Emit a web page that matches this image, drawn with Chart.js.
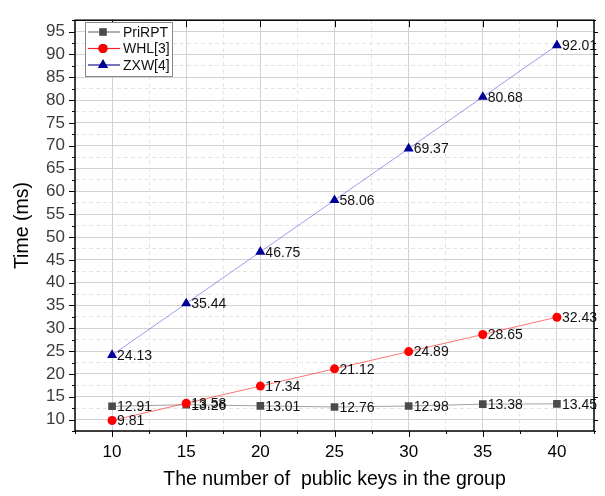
<!DOCTYPE html>
<html>
<head>
<meta charset="utf-8">
<script src="https://cdn.jsdelivr.net/npm/chart.js@4/dist/chart.umd.min.js"></script>
<style>
  html, body { margin: 0; padding: 0; background: #fff; }
  #wrap { width: 605px; height: 496px; }
</style>
</head>
<body>
<div id="wrap"><canvas id="timeChart" width="605" height="496"></canvas></div>
<script>
// Datos del gráfico
const groupSizes = [10, 15, 20, 25, 30, 35, 40];
const priRPT = [12.91, 13.26, 13.01, 12.76, 12.98, 13.38, 13.45];
const whl = [9.81, 13.58, 17.34, 21.12, 24.89, 28.65, 32.43];
const zxw = [24.13, 35.44, 46.75, 58.06, 69.37, 80.68, 92.01];
const seriesNames = ['PriRPT', 'WHL[3]', 'ZXW[4]'];

const FONT = "'Liberation Sans', Arial, sans-serif";

function toPoints(values) {
    return groupSizes.map((x, i) => ({ x: x, y: values[i] }));
}

const isMajor = v => Math.abs(v % 5) < 1e-9;

// Etiquetas de valor junto a cada punto
const valueLabels = {
    id: 'valueLabels',
    afterDatasetsDraw(chart) {
        const ctx = chart.ctx;
        ctx.save();
        ctx.font = '14px ' + FONT;
        ctx.fillStyle = '#111';
        ctx.textAlign = 'left';
        ctx.textBaseline = 'middle';
        chart.data.datasets.forEach((ds, di) => {
            const meta = chart.getDatasetMeta(di);
            meta.data.forEach((pt, i) => {
                ctx.fillText(ds.data[i].y.toFixed(2), pt.x + 5, pt.y + 1);
            });
        });
        ctx.restore();
    }
};

// Marco y marcas de los ejes (estilo Origin)
const frameTicks = {
    id: 'frameTicks',
    afterDraw(chart) {
        const { ctx, chartArea: a, scales } = chart;
        ctx.save();
        ctx.strokeStyle = '#000';
        ctx.lineWidth = 1;
        for (let v = 7.5; v <= 42.5; v += 2.5) {
            const px = Math.round(scales.x.getPixelForValue(v)) + 0.5;
            const len = isMajor(v) ? 6 : 3;
            ctx.beginPath();
            ctx.moveTo(px, a.bottom); ctx.lineTo(px, a.bottom + len);
            if (isMajor(v)) { ctx.moveTo(px, a.top); ctx.lineTo(px, a.top + 7); }
            ctx.stroke();
        }
        for (let v = 7.5; v <= 97.5; v += 2.5) {
            const py = Math.round(scales.y.getPixelForValue(v)) + 0.5;
            const len = isMajor(v) ? 6 : 3;
            ctx.beginPath();
            ctx.moveTo(a.left, py); ctx.lineTo(a.left - len, py);
            ctx.moveTo(a.right, py); ctx.lineTo(a.right + (isMajor(v) ? 4 : 2), py);
            ctx.stroke();
        }
        ctx.lineWidth = 1.5;
        ctx.strokeRect(a.left, a.top, a.right - a.left, a.bottom - a.top);
        ctx.restore();
    }
};

// Leyenda dentro del área del gráfico
const boxLegend = {
    id: 'boxLegend',
    afterDraw(chart) {
        const ctx = chart.ctx;
        const left = 85, top = 22, w = 87, h = 54, rowH = 16.5;
        ctx.save();
        ctx.fillStyle = '#fff';
        ctx.fillRect(left, top, w, h);
        ctx.strokeStyle = '#888';
        ctx.lineWidth = 1;
        ctx.strokeRect(left + 0.5, top + 0.5, w, h);
        chart.data.datasets.forEach((ds, i) => {
            const cy = top + 10 + i * rowH;
            ctx.strokeStyle = ds.legendLine;
            ctx.lineWidth = 1.2;
            ctx.beginPath();
            ctx.moveTo(left + 3, cy); ctx.lineTo(left + 35, cy);
            ctx.stroke();
            Chart.helpers.drawPoint(ctx, {
                pointStyle: ds.pointStyle,
                radius: ds.pointRadius,
                borderWidth: 0
            }, left + 18, cy);
            ctx.fillStyle = ds.pointBackgroundColor;
            ctx.fill();
            ctx.fillStyle = '#111';
            ctx.font = '14px ' + FONT;
            ctx.textBaseline = 'middle';
            ctx.fillText(seriesNames[i], left + 38, cy + 1);
        });
        ctx.restore();
    }
};

const gridColor = c => isMajor(c.tick.value) ? '#d2d2d2' : '#e4e4e4';
const gridDash = c => (c.tick && !isMajor(c.tick.value)) ? [4, 3] : [];

new Chart(document.getElementById('timeChart').getContext('2d'), {
    type: 'line',
    data: {
        datasets: [
            {
                label: seriesNames[0],
                data: toPoints(priRPT),
                borderColor: '#a0a0a0',
                legendLine: '#777',
                borderWidth: 1,
                pointStyle: 'rect',
                pointRadius: 5.4,
                pointBackgroundColor: '#4b4b4b',
                pointBorderWidth: 0,
                order: 3
            },
            {
                label: seriesNames[1],
                data: toPoints(whl),
                borderColor: 'rgba(255, 70, 70, 0.75)',
                legendLine: '#ff2020',
                borderWidth: 1,
                pointStyle: 'circle',
                pointRadius: 4.5,
                pointBackgroundColor: '#ff0000',
                pointBorderWidth: 0,
                order: 2
            },
            {
                label: seriesNames[2],
                data: toPoints(zxw),
                borderColor: 'rgba(90, 90, 220, 0.6)',
                legendLine: '#1a1a90',
                borderWidth: 1,
                pointStyle: 'triangle',
                pointRadius: 5.8,
                pointBackgroundColor: '#00009a',
                pointBorderWidth: 0,
                order: 1
            }
        ]
    },
    options: {
        responsive: false,
        animation: false,
        layout: { padding: { left: 0, right: 6, top: 6, bottom: 0 } },
        plugins: {
            legend: { display: false },
            tooltip: { enabled: false }
        },
        scales: {
            x: {
                type: 'linear',
                min: 7.5,
                max: 42.5,
                afterFit: s => { s.height = 65; },
                ticks: {
                    stepSize: 2.5,
                    autoSkip: false,
                    maxRotation: 0,
                    padding: 11,
                    color: '#000',
                    font: { family: FONT, size: 17 },
                    callback: v => isMajor(v) ? v : ''
                },
                grid: { color: gridColor, drawTicks: false },
                border: { display: false, dash: gridDash },
                title: {
                    display: true,
                    text: 'The number of  public keys in the group',
                    color: '#000',
                    font: { family: FONT, size: 19.5 },
                    padding: { top: 0, bottom: 5 }
                }
            },
            y: {
                type: 'linear',
                min: 7.5,
                max: 97.5,
                afterFit: s => { s.width = 75; },
                ticks: {
                    stepSize: 2.5,
                    autoSkip: false,
                    padding: 10,
                    color: '#3c3c3c',
                    font: { family: FONT, size: 17 },
                    callback: v => isMajor(v) ? v : ''
                },
                grid: { color: gridColor, drawTicks: false },
                border: { display: false, dash: gridDash },
                title: {
                    display: true,
                    text: 'Time (ms)',
                    color: '#000',
                    font: { family: FONT, size: 19.5 },
                    padding: { top: 11, bottom: 0 }
                }
            }
        }
    },
    plugins: [valueLabels, frameTicks, boxLegend]
});
</script>
</body>
</html>
